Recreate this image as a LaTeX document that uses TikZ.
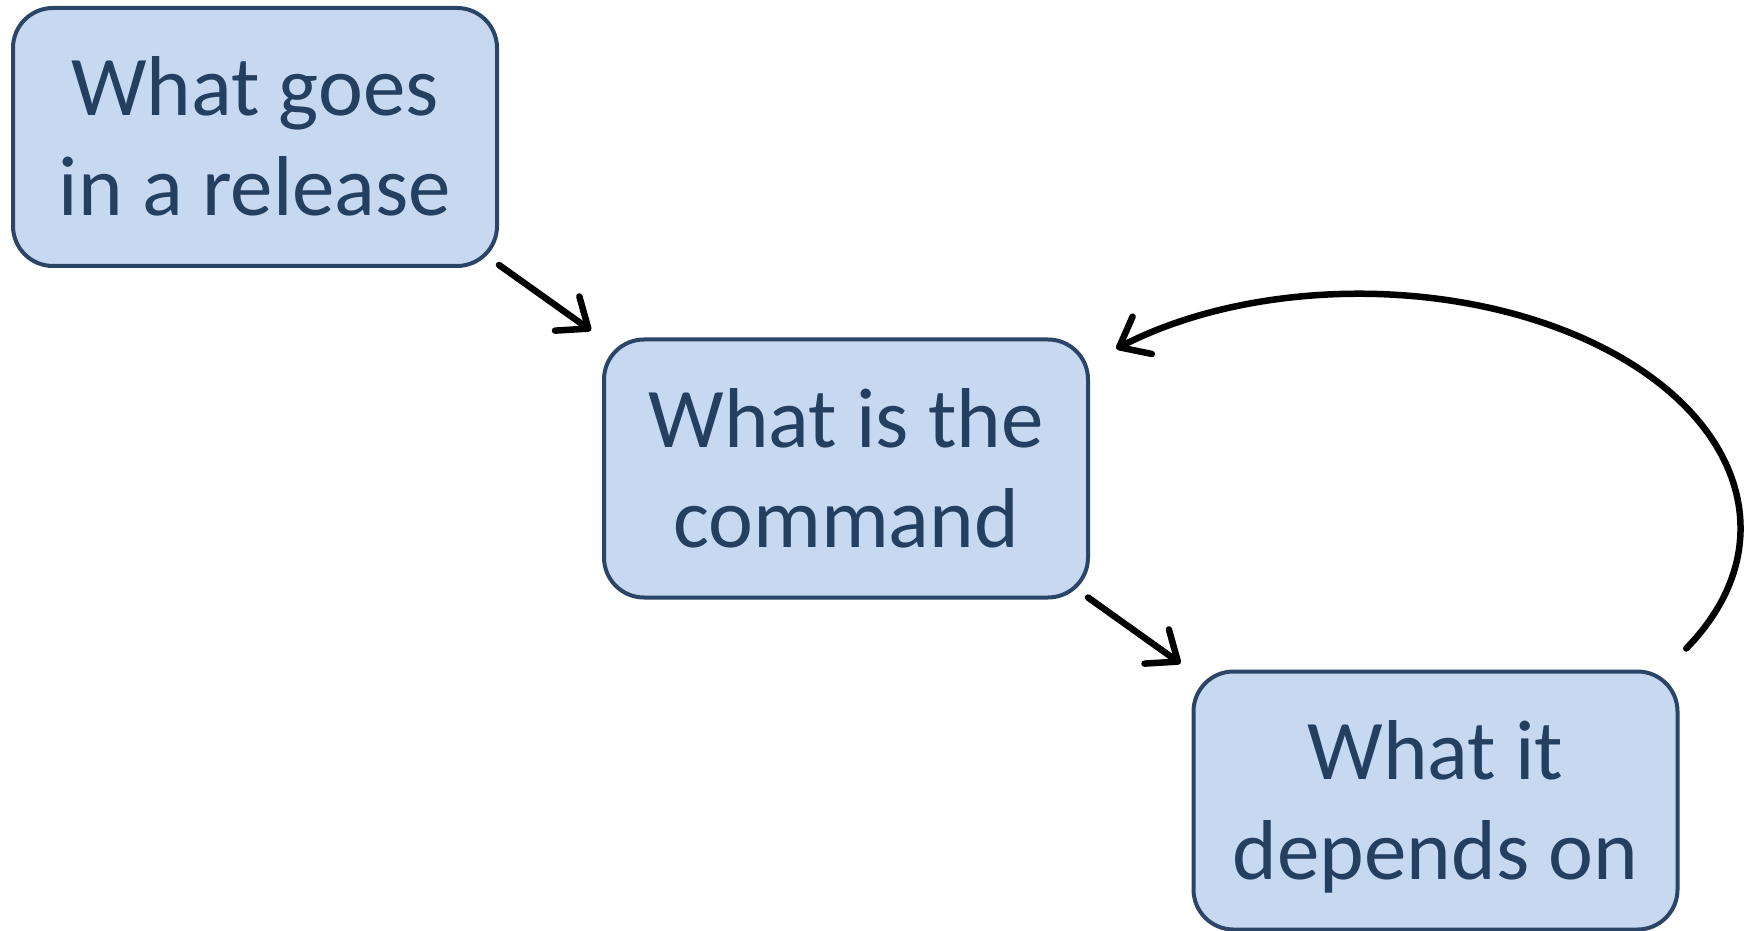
\documentclass[tikz,border=0pt]{standalone}
\usepackage{fontspec}
\setmainfont{Carlito}
\usetikzlibrary{arrows.meta,calc}
\definecolor{boxfill}{HTML}{C6D9F1}
\definecolor{boxborder}{HTML}{2B4566}
\definecolor{textblue}{HTML}{243F60}
\begin{document}
\begin{tikzpicture}[x=1pt,y=1pt,
  stepbox/.style={draw=boxborder, line width=4pt, fill=boxfill, rounded corners=40pt,
    minimum width=484pt, minimum height=258pt, inner sep=0pt, text width=470pt,
    align=flush center, text=textblue, font=\fontsize{85}{100}\selectfont,
    text height=80pt, text depth=122pt},
  conn/.style={line width=6.5pt, line cap=round, draw=black,
    -{Straight Barb[length=26pt, width=42pt, line cap=round, line join=round]}}]
\useasboundingbox (0,0) rectangle (1750,930);
\node[stepbox] (b1) at (255,793) {What goes\\in a release};
\node[stepbox] (b2) at (846,461.5) {What is the\\command};
\node[stepbox] (b3) at (1435.5,129.5) {What it\\depends on};
\draw[conn] ($(b1.south east)+(0,3)$) -- ($(b2.north west)+(-11,7)$);
\draw[conn] ($(b2.south east)+(-2,2)$) -- ($(b3.north west)+(-11,6)$);
\coordinate (c) at ($(b3.north east)+(6.7,21)$);
\draw[conn] (c) arc[start angle=-31, end angle=130, x radius=380, y radius=234];
\end{tikzpicture}
\end{document}
